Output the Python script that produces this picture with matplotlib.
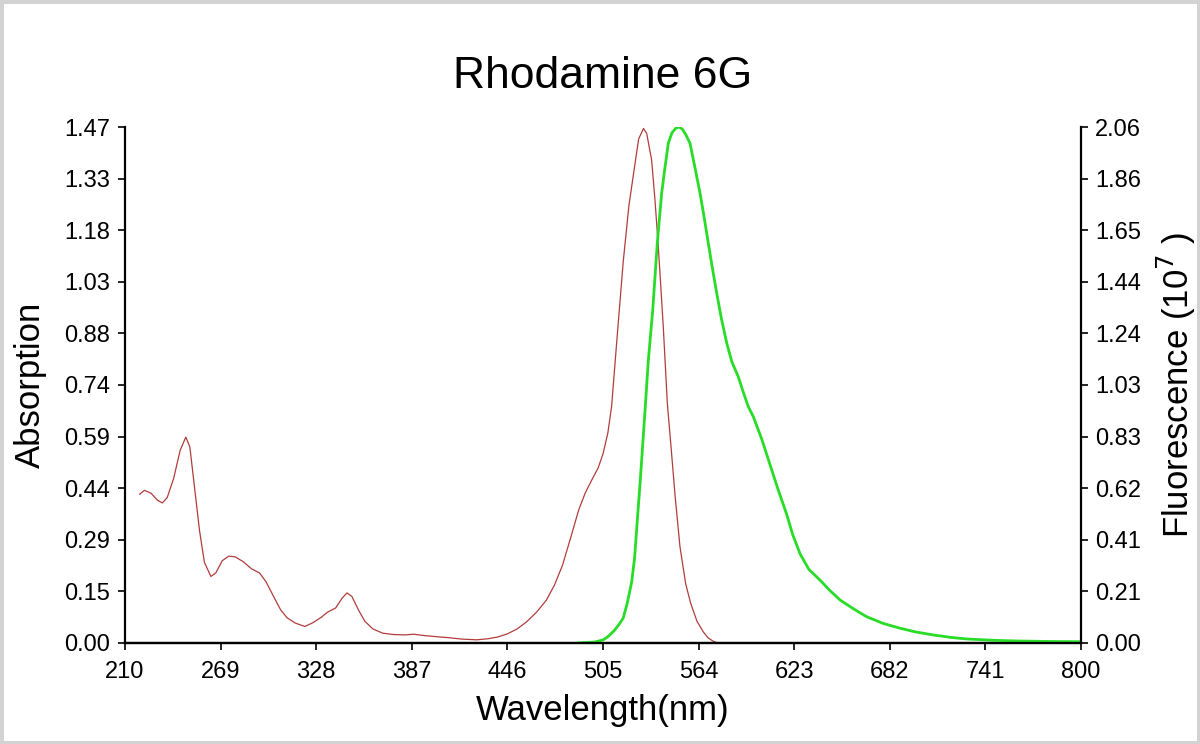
import matplotlib
matplotlib.use("Agg")
import matplotlib.pyplot as plt

# ---- Data
abs_nm = [219, 222, 226, 230, 233, 236, 240, 244, 247.5, 250, 253, 256, 259, 263,
          266, 270, 274, 278, 283, 288, 293, 297, 302, 306, 310, 315, 321, 326,
          331, 335, 340, 344, 347, 350, 354, 358, 363, 369, 376, 383, 388, 395,
          402, 410, 418, 427, 434, 440, 446, 452, 458, 464, 470, 475, 480, 485,
          490, 494, 498, 502, 505, 508, 510.3, 513.4, 517.5, 521, 524, 527, 530,
          532, 535, 537, 539, 542.2, 544.7, 547, 549.5, 552.5, 556, 559, 563, 567,
          570, 573, 576]
abs_val = [0.425, 0.436, 0.428, 0.408, 0.400, 0.415, 0.47, 0.55, 0.588, 0.56, 0.44,
           0.32, 0.23, 0.19, 0.20, 0.235, 0.248, 0.246, 0.232, 0.212, 0.200, 0.175,
           0.130, 0.095, 0.072, 0.057, 0.047, 0.058, 0.073, 0.088, 0.100, 0.128,
           0.143, 0.133, 0.095, 0.062, 0.040, 0.028, 0.024, 0.023, 0.025, 0.021,
           0.018, 0.015, 0.011, 0.009, 0.012, 0.017, 0.026, 0.040, 0.061, 0.088,
           0.122, 0.165, 0.222, 0.300, 0.380, 0.428, 0.465, 0.500, 0.540, 0.600,
           0.675, 0.856, 1.09, 1.25, 1.345, 1.44, 1.47, 1.455, 1.38, 1.27, 1.142,
           0.904, 0.685, 0.56, 0.42, 0.275, 0.17, 0.115, 0.062, 0.031, 0.014,
           0.005, 0.0]

fl_nm = [490, 500, 505, 508, 512, 515, 517.5, 520, 522.7, 524.5, 525.8, 528, 530,
         531, 533, 535.7, 538.5, 541.2, 543, 545.3, 547.5, 550, 552, 554, 556,
         558.7, 561.5, 564.9, 567.5, 570, 572.5, 575.2, 578, 581.4, 584.5, 588.5,
         591.5, 594.7, 597.8, 603, 608.1, 613, 618.4, 622, 626.6, 632, 639, 645,
         651.3, 660, 667.7, 678, 688.3, 698, 708.9, 720, 729.5, 745, 760, 780, 800]
fl_val = [0.0, 0.004, 0.012, 0.025, 0.05, 0.075, 0.10, 0.16, 0.244, 0.34, 0.457,
          0.65, 0.84, 0.935, 1.132, 1.332, 1.599, 1.799, 1.89, 1.999, 2.04, 2.06,
          2.064, 2.055, 2.035, 1.999, 1.91, 1.799, 1.70, 1.599, 1.50, 1.399, 1.30,
          1.199, 1.125, 1.065, 1.005, 0.945, 0.905, 0.815, 0.713, 0.615, 0.514,
          0.435, 0.357, 0.295, 0.251, 0.21, 0.172, 0.135, 0.105, 0.078, 0.059,
          0.044, 0.032, 0.022, 0.016, 0.011, 0.008, 0.006, 0.005]

x_ticks = [210, 269, 328, 387, 446, 505, 564, 623, 682, 741, 800]
left_labels = ['0.00', '0.15', '0.29', '0.44', '0.59', '0.74', '0.88', '1.03',
               '1.18', '1.33', '1.47']
right_labels = ['0.00', '0.21', '0.41', '0.62', '0.83', '1.03', '1.24', '1.44',
                '1.65', '1.86', '2.06']
left_max = 1.474
right_max = 2.064

plt.rcParams['font.family'] = ['Liberation Sans', 'DejaVu Sans']

fig = plt.figure(figsize=(12, 7.44), dpi=100, facecolor='white',
                 edgecolor='#d3d3d3', linewidth=5)
ax = fig.add_axes([0.1042, 0.1358, 0.7966, 0.6935])
ax2 = ax.twinx()

ax.plot(abs_nm, abs_val, color='#b23c3c', lw=0.9)
ax2.plot(fl_nm, fl_val, color='#28dc28', lw=2.0)

ax.set_xlim(210, 800)
ax.set_ylim(0, left_max)
ax2.set_ylim(0, right_max)

ax.set_xticks(x_ticks)
ax.set_xticklabels([str(t) for t in x_ticks])
ax.set_yticks([left_max * i / 10 for i in range(11)])
ax.set_yticklabels(left_labels)
ax2.set_yticks([right_max * i / 10 for i in range(11)])
ax2.set_yticklabels(right_labels)

for a in (ax, ax2):
    a.spines['top'].set_visible(False)
    for s in a.spines.values():
        s.set_linewidth(1.6)
    a.tick_params(direction='out', length=5, width=1.2, labelsize=17)
ax.spines['right'].set_visible(False)
ax2.spines['left'].set_visible(False)
ax.tick_params(axis='y', pad=6)
ax.tick_params(axis='x', pad=8)
ax2.tick_params(axis='y', pad=5)

ax.set_title('Rhodamine 6G', fontsize=32, pad=28)
ax.set_xlabel('Wavelength(nm)', fontsize=25, va='center')
ax.xaxis.set_label_coords(0.5, -0.13)
ax.set_ylabel('Absorption', fontsize=25, va='center')
ax.yaxis.set_label_coords(-0.099, 0.5)
ax2.set_ylabel('Fluorescence (10$^7$ )', fontsize=25, va='center', rotation=90)
ax2.yaxis.set_label_coords(1.1, 0.5)

fig.savefig('out.png', dpi=100, facecolor=fig.get_facecolor(),
            edgecolor=fig.get_edgecolor())
